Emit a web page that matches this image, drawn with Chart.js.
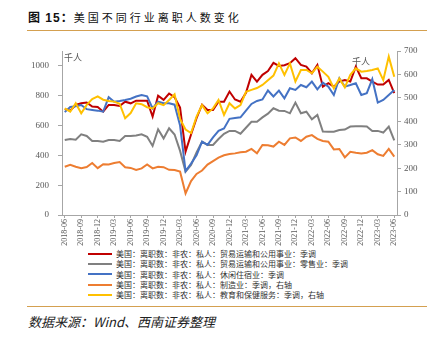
<!DOCTYPE html>
<html>
<head>
<meta charset="utf-8">
<script src="https://cdn.jsdelivr.net/npm/chart.js@4"></script>
<style>
  body { margin: 0; background: #fff; width: 439px; height: 343px; position: relative; overflow: hidden; font-family: "Noto Sans CJK SC", sans-serif; }
  #title { position: absolute; left: 28px; top: 8px; font-size: 11px; letter-spacing: 3px; color: #111; white-space: nowrap; }
  #title b { font-family: Arial, "Liberation Sans", "Noto Sans CJK SC"; font-size: 12px; letter-spacing: 1px; }
  .rule { position: absolute; left: 27px; width: 400px; height: 0; border-top: 1.5px solid #D4A050; }
  #wrap { position: absolute; left: 0; top: 36px; width: 439px; height: 212px; }
  #legend { position: absolute; left: 88px; top: 249px; font-size: 8px; color: #333; }
  #legend div { height: 10.25px; line-height: 10.25px; white-space: nowrap; }
  #legend span.ln { display: inline-block; width: 24px; height: 2px; vertical-align: middle; margin-right: 4px; position: relative; top: -1px; }
  #source { position: absolute; left: 28px; top: 312px; font-size: 13px; font-style: italic; color: #222; white-space: nowrap; }
</style>
</head>
<body>
<div id="title"><b>图 15：</b>美国不同行业离职人数变化</div>
<div class="rule" style="top:30px"></div>
<div id="wrap"><canvas id="quitsChart"></canvas></div>
<div id="legend"></div>
<div class="rule" style="top:306px"></div>
<div id="source">数据来源：Wind、西南证券整理</div>
<script>
window.addEventListener("load", function(){

  // monthly categories 2018-06 .. 2023-06
  var months = [];
  for (var y = 2018, m = 6; y < 2023 || (y === 2023 && m <= 6); ) {
    months.push(y + "-" + String(m).padStart(2, "0"));
    m++;
    if (m > 12) { m = 1; y++; }
  }

  // left axis, thousand persons
  var tradeTransport = [710, 700, 738, 750, 755, 728, 724, 693, 738, 738, 731, 760, 749, 767, 767, 767, 660, 800, 772, 815,
    790, 720, 425, 540, 650, 740, 705, 705, 760, 760, 828, 775, 760, 820, 940, 895, 940, 965, 1020, 1000,
    1005, 1018, 1052, 1007, 995, 951, 1007, 861, 884, 861, 895, 906, 895, 995, 917, 917, 895, 875, 875, 906, 817];
  var retail = [503, 510, 505, 541, 530, 497, 497, 492, 503, 503, 497, 530, 530, 533, 541, 525, 463, 575, 514, 582,
    540, 430, 291, 336, 420, 492, 470, 470, 510, 545, 564, 564, 545, 585, 625, 626, 655, 680, 716, 700,
    698, 682, 754, 682, 693, 642, 671, 560, 558, 559, 570, 573, 593, 596, 596, 593, 564, 564, 553, 593, 500];
  var leisure = [690, 725, 730, 738, 710, 705, 700, 693, 790, 760, 765, 772, 780, 795, 805, 796, 715, 760, 750, 750,
    740, 600, 295, 345, 400, 492, 470, 520, 565, 580, 645, 650, 655, 700, 745, 765, 775, 835, 795, 834,
    783, 850, 839, 872, 857, 895, 843, 888, 861, 805, 917, 861, 872, 884, 805, 817, 911, 754, 772, 805, 839];
  // right axis
  var manufacturing = [206, 214, 206, 200, 205, 222, 200, 217, 216, 222, 226, 204, 201, 192, 199, 216, 199, 206, 204, 193,
    192, 185, 92, 145, 175, 190, 215, 230, 245, 255, 260, 263, 268, 270, 282, 263, 299, 298, 292, 313,
    299, 327, 331, 316, 334, 341, 325, 316, 313, 280, 282, 246, 270, 266, 263, 266, 277, 259, 252, 282, 249];
  var eduHealth = [455, 441, 477, 434, 470, 495, 506, 492, 487, 484, 475, 413, 435, 477, 473, 460, 455, 477, 469, 491,
    515, 410, 365, 350, 420, 469, 434, 455, 491, 427, 477, 455, 469, 526, 534, 542, 555, 575, 595, 647,
    598, 647, 570, 619, 619, 605, 633, 612, 590, 541, 583, 545, 598, 626, 612, 615, 619, 626, 576, 676, 590];

  var leftTicks = [0, 200, 400, 600, 800, 1000];
  var rightTicks = [0, 100, 200, 300, 400, 500, 600, 700];

  var seriesNames = [
    "美国：离职数：非农：私人：贸易运输和公用事业：季调",
    "美国：离职数：非农：私人：贸易运输和公用事业：零售业：季调",
    "美国：离职数：非农：私人：休闲住宿业：季调",
    "美国：离职数：非农：私人：制造业：季调，右轴",
    "美国：离职数：非农：私人：教育和保健服务：季调，右轴"
  ];
  var seriesColors = ["#C00000", "#808080", "#4472C4", "#ED7D31", "#FFC000"];
  var seriesData = [tradeTransport, retail, leisure, manufacturing, eduHealth];
  var seriesAxis = ["y", "y", "y", "y1", "y1"];

  var datasets = seriesData.map(function(d, i){
    return {
      label: seriesNames[i],
      data: d,
      yAxisID: seriesAxis[i],
      borderColor: seriesColors[i],
      backgroundColor: seriesColors[i],
      borderWidth: 2,
      pointRadius: 0,
      tension: 0,
      order: 5 - i
    };
  });

  var legend = document.getElementById("legend");
  seriesNames.forEach(function(name, i){
    var row = document.createElement("div");
    row.innerHTML = '<span class="ln" style="background:' + seriesColors[i] + '"></span>' + name;
    legend.appendChild(row);
  });

  var tickFont = { family: '"Liberation Serif", "Times New Roman", serif', size: 9 };
  var axisGray = "#A6A6A6";

  var unitLabels = {
    id: "unitLabels",
    afterDraw: function(chart){
      var ctx = chart.ctx, area = chart.chartArea;
      ctx.save();
      ctx.font = '9px "Noto Sans CJK SC"';
      ctx.fillStyle = "#595959";
      ctx.textBaseline = "middle";
      ctx.fillText("千人", area.left + 2, area.top + 7);
      ctx.fillText("千人", area.right - 45, area.top + 11);
      ctx.restore();
    }
  };

  var plainNumber = function(v){ return String(v); };

  new Chart(document.getElementById("quitsChart"), {
    type: "line",
    data: { labels: months, datasets: datasets },
    plugins: [unitLabels],
    options: {
      responsive: true,
      maintainAspectRatio: false,
      animation: false,
      layout: { padding: { top: 15, left: 0, right: 0, bottom: 0 } },
      plugins: { legend: { display: false }, tooltip: { enabled: false } },
      scales: {
        x: {
          offset: true,
          afterFit: function(s){ s.height = 33; },
          border: { color: axisGray },
          grid: {
            drawOnChartArea: false,
            offset: false,
            tickLength: 3,
            tickColor: function(c){ return c.index % 3 === 0 ? axisGray : "rgba(0,0,0,0)"; }
          },
          ticks: {
            autoSkip: false,
            minRotation: 90,
            maxRotation: 90,
            padding: 1,
            color: "#595959",
            font: { family: tickFont.family, size: 8 },
            callback: function(v, i){ return i % 3 === 0 ? months[i] : ""; }
          }
        },
        y: {
          position: "left",
          min: 0,
          max: 1100,
          afterFit: function(s){ s.width = 62; },
          afterBuildTicks: function(s){ s.ticks = leftTicks.map(function(v){ return { value: v }; }); },
          border: { color: axisGray },
          grid: { drawOnChartArea: false, tickLength: 4, color: axisGray },
          ticks: { padding: 9, color: "#595959", font: tickFont, callback: plainNumber }
        },
        y1: {
          position: "right",
          min: 0,
          max: 700,
          afterFit: function(s){ s.width = 42; },
          afterBuildTicks: function(s){ s.ticks = rightTicks.map(function(v){ return { value: v }; }); },
          border: { color: axisGray },
          grid: { drawOnChartArea: false, tickLength: 4, color: axisGray },
          ticks: { padding: 3, color: "#595959", font: tickFont, callback: plainNumber }
        }
      }
    }
  });

});
</script>
</body>
</html>
